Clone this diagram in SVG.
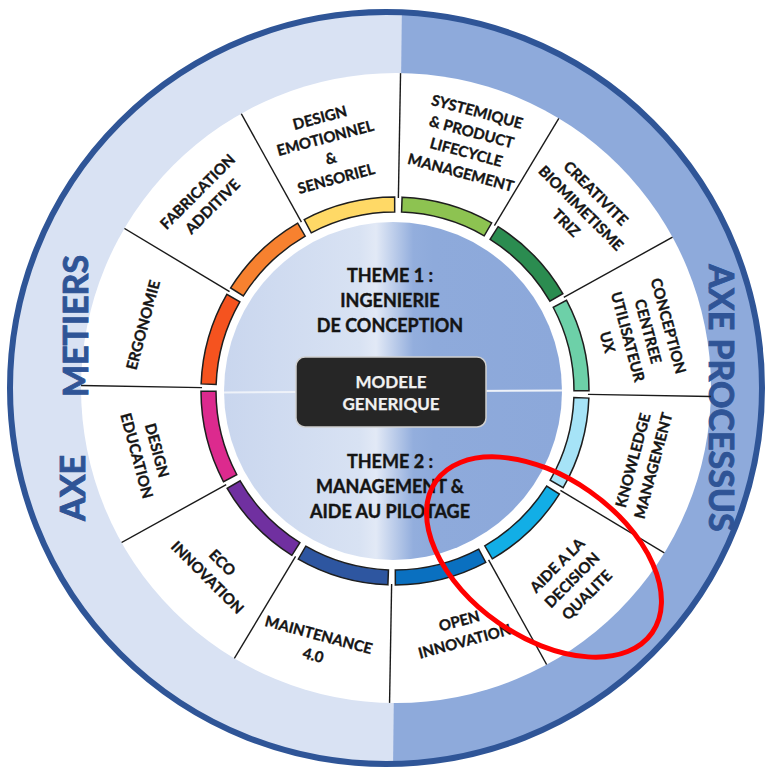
<svg xmlns="http://www.w3.org/2000/svg" width="765" height="771" viewBox="0 0 765 771">
<defs>
<style>
.lbl{font-family:Lato,"Liberation Sans",sans-serif;font-weight:700;font-size:15px;fill:#151515;stroke:#151515;stroke-width:0.35;text-anchor:middle}
.theme{font-family:Lato,"Liberation Sans",sans-serif;font-weight:700;font-size:18px;fill:#141414;stroke:#141414;stroke-width:0.4;text-anchor:middle}
.box{font-family:Lato,"Liberation Sans",sans-serif;font-weight:700;font-size:17px;fill:#f2f2f2;stroke:#f2f2f2;stroke-width:0.25;text-anchor:middle}
.axe{font-family:Lato,"Liberation Sans",sans-serif;font-weight:700;font-size:34px;fill:#2f5496;stroke:#2f5496;stroke-width:0.9;text-anchor:middle}
.seg{stroke:#1e1e1e;stroke-width:1.5}
.div{stroke:#1a1a1a;stroke-width:1.4;fill:none}
</style>
<path id="segShape" d="M188.32,-46.60 A194,194 0 0 1 188.32,46.60 L173.76,43.00 A179,179 0 0 0 173.76,-43.00 Z"/>
<line id="divLine" x1="193" y1="0" x2="335" y2="0"/>
<clipPath id="outerClip"><circle cx="386" cy="388" r="376"/></clipPath>
<clipPath id="whiteClip"><circle cx="396" cy="388" r="315"/></clipPath>
<linearGradient id="themeGrad" gradientUnits="userSpaceOnUse" x1="224" y1="0" x2="562" y2="0">
<stop offset="0" stop-color="#c9d6ee"/>
<stop offset="0.4" stop-color="#d8e2f3"/>
<stop offset="0.45" stop-color="#e2e9f6"/>
<stop offset="0.56" stop-color="#93aedd"/>
<stop offset="0.62" stop-color="#8eaadb"/>
<stop offset="1" stop-color="#8ca8da"/>
</linearGradient>
</defs>
<rect width="765" height="771" fill="#ffffff"/>
<g id="outer-ring">
<circle cx="386" cy="388" r="376" fill="#d9e2f3"/>
<polygon points="402,0 765,0 765,771 393,771" fill="#8eaadb" clip-path="url(#outerClip)"/>
<circle cx="386" cy="388" r="376" fill="none" stroke="#2f5597" stroke-width="6"/>
<circle cx="396" cy="388" r="315" fill="#ffffff"/>
</g>
<g id="axe-metiers">
<text class="axe" transform="translate(75,326) rotate(-90)" y="12.5">METIERS</text>
<text class="axe" transform="translate(72,488) rotate(-90)" y="12.5">AXE</text>
</g>
<g id="axe-processus">
<text class="axe" transform="translate(721,398) rotate(90)" y="12.5">AXE PROCESSUS</text>
</g>
<g id="connectors" clip-path="url(#whiteClip)">
<g class="div" transform="translate(395,391) rotate(1)">
<use href="#divLine"/>
<use href="#divLine" transform="rotate(30)"/>
<use href="#divLine" transform="rotate(60)"/>
<use href="#divLine" transform="rotate(90)"/>
<use href="#divLine" transform="rotate(120)"/>
<use href="#divLine" transform="rotate(150)"/>
<use href="#divLine" transform="rotate(180)"/>
<use href="#divLine" transform="rotate(210)"/>
<use href="#divLine" transform="rotate(240)"/>
<use href="#divLine" transform="rotate(270)"/>
<use href="#divLine" transform="rotate(300)"/>
<use href="#divLine" transform="rotate(330)"/>
</g>
</g>
<g id="ergonomie">
<use href="#segShape" class="seg" fill="#f5531f" transform="translate(395,391) rotate(-164)"/>
<g transform="translate(143,325) rotate(-75)"><text class="lbl"><tspan x="0" y="5.4">ERGONOMIE</tspan></text></g>
</g>
<g id="fabrication-additive">
<use href="#segShape" class="seg" fill="#f7812f" transform="translate(395,391) rotate(-134)"/>
<g transform="translate(205,199) rotate(-45)"><text class="lbl"><tspan x="0" y="-5.1">FABRICATION</tspan><tspan x="0" y="15.9">ADDITIVE</tspan></text></g>
</g>
<g id="design-emotionnel">
<use href="#segShape" class="seg" fill="#ffd966" transform="translate(395,391) rotate(-104)"/>
<g transform="translate(328,148) rotate(-15)"><text class="lbl"><tspan x="0" y="-26.1">DESIGN</tspan><tspan x="0" y="-5.1">EMOTIONNEL</tspan><tspan x="0" y="15.9">&amp;</tspan><tspan x="0" y="36.9">SENSORIEL</tspan></text></g>
</g>
<g id="systemique">
<use href="#segShape" class="seg" fill="#8dc351" transform="translate(395,391) rotate(-74)"/>
<g transform="translate(469,142) rotate(15)"><text class="lbl"><tspan x="0" y="-26.1">SYSTEMIQUE</tspan><tspan x="0" y="-5.1">&amp; PRODUCT</tspan><tspan x="0" y="15.9">LIFECYCLE</tspan><tspan x="0" y="36.9">MANAGEMENT</tspan></text></g>
</g>
<g id="creativite">
<use href="#segShape" class="seg" fill="#2b8c50" transform="translate(395,391) rotate(-44)"/>
<g transform="translate(581,208) rotate(45)"><text class="lbl"><tspan x="0" y="-15.6">CREATIVITE</tspan><tspan x="0" y="5.4">BIOMIMETISME</tspan><tspan x="0" y="26.4">TRIZ</tspan></text></g>
</g>
<g id="conception-centree">
<use href="#segShape" class="seg" fill="#6dd0a8" transform="translate(395,391) rotate(-14)"/>
<g transform="translate(638,334) rotate(75)"><text class="lbl"><tspan x="0" y="-26.1">CONCEPTION</tspan><tspan x="0" y="-5.1">CENTREE</tspan><tspan x="0" y="15.9">UTILISATEUR</tspan><tspan x="0" y="36.9">UX</tspan></text></g>
</g>
<g id="knowledge">
<use href="#segShape" class="seg" fill="#a6e3f7" transform="translate(395,391) rotate(16)"/>
<g transform="translate(643,463) rotate(-75)"><text class="lbl"><tspan x="0" y="-5.1">KNOWLEDGE</tspan><tspan x="0" y="15.9">MANAGEMENT</tspan></text></g>
</g>
<g id="aide-decision">
<use href="#segShape" class="seg" fill="#12aee6" transform="translate(395,391) rotate(46)"/>
<g transform="translate(572,580) rotate(-45)"><text class="lbl"><tspan x="0" y="-15.6">AIDE A LA</tspan><tspan x="0" y="5.4">DECISION</tspan><tspan x="0" y="26.4">QUALITE</tspan></text></g>
</g>
<g id="open-innovation">
<use href="#segShape" class="seg" fill="#0a70c0" transform="translate(395,391) rotate(76)"/>
<g transform="translate(462,631) rotate(-15)"><text class="lbl"><tspan x="0" y="-5.1">OPEN</tspan><tspan x="0" y="15.9">INNOVATION</tspan></text></g>
</g>
<g id="maintenance">
<use href="#segShape" class="seg" fill="#2e56a0" transform="translate(395,391) rotate(106)"/>
<g transform="translate(316,645) rotate(15)"><text class="lbl"><tspan x="0" y="-5.1">MAINTENANCE</tspan><tspan x="0" y="15.9">4.0</tspan></text></g>
</g>
<g id="eco-innovation">
<use href="#segShape" class="seg" fill="#7030a0" transform="translate(395,391) rotate(136)"/>
<g transform="translate(215,570) rotate(45)"><text class="lbl"><tspan x="0" y="-5.1">ECO</tspan><tspan x="0" y="15.9">INNOVATION</tspan></text></g>
</g>
<g id="design-education">
<use href="#segShape" class="seg" fill="#dc2a8e" transform="translate(395,391) rotate(166)"/>
<g transform="translate(147,453) rotate(75)"><text class="lbl"><tspan x="0" y="-5.1">DESIGN</tspan><tspan x="0" y="15.9">EDUCATION</tspan></text></g>
</g>
<g id="themes">
<circle cx="393" cy="391" r="169" fill="url(#themeGrad)"/>
<line x1="224" y1="392.5" x2="562" y2="390.5" stroke="#eef2f9" stroke-width="2"/>
<text class="theme"><tspan x="390" y="282">THEME 1 :</tspan><tspan x="390" y="307">INGENIERIE</tspan><tspan x="390" y="332">DE CONCEPTION</tspan></text>
<text class="theme"><tspan x="390" y="468">THEME 2 :</tspan><tspan x="390" y="493">MANAGEMENT &amp;</tspan><tspan x="390" y="518">AIDE AU PILOTAGE</tspan></text>
</g>
<g id="modele-generique">
<rect x="296" y="357" width="190" height="70" rx="9" fill="#262626" stroke="#cfcfcf" stroke-width="1.5"/>
<text class="box"><tspan x="391" y="388">MODELE</tspan><tspan x="391" y="410">GENERIQUE</tspan></text>
</g>
<g id="highlight">
<ellipse cx="544" cy="557" rx="132" ry="80" transform="rotate(35 544 557)" fill="none" stroke="#ff0000" stroke-width="5"/>
</g>
</svg>
